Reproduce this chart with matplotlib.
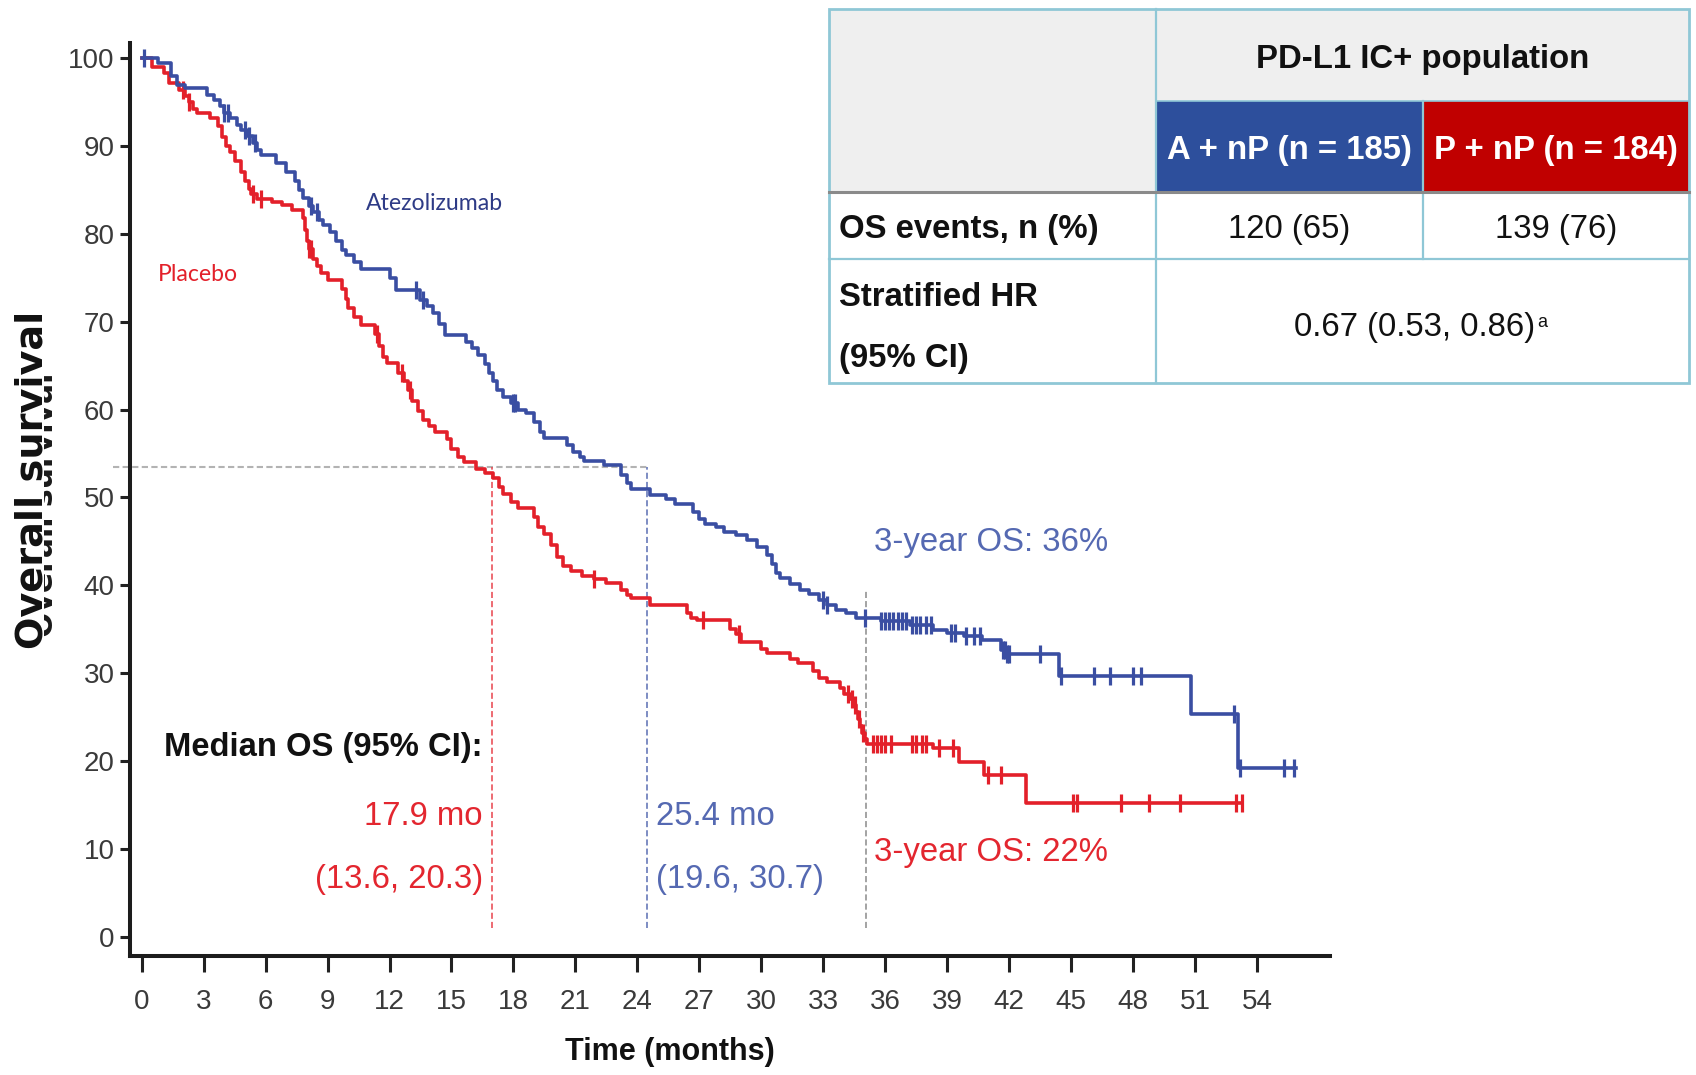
import numpy as np
import matplotlib
matplotlib.use('Agg')
import matplotlib.pyplot as plt
from matplotlib.patches import Rectangle
from matplotlib.transforms import offset_copy, Bbox, TransformedBbox

# Kaplan-Meier steps: time of each drop (months) and survival (%) after it
atezo_t = [0, 0.8, 1.4, 1.7, 2.1, 3.15, 3.5, 3.8, 4.0, 4.3, 4.6, 4.8, 5.1, 5.4, 5.6, 5.8,
           6.5, 7.0, 7.4, 7.6, 7.8, 8.1, 8.3, 8.6, 8.8, 9.1, 9.4, 9.7, 9.9, 10.3, 10.6,
           12.0, 12.3, 13.5, 13.8, 14.1, 14.4, 14.7, 15.7, 16.0, 16.3, 16.6, 16.8, 17.0,
           17.2, 17.5, 17.9, 18.2, 18.6, 19.0, 19.3, 19.5, 20.6, 20.9, 21.2, 21.4, 22.4,
           23.2, 23.5, 23.7, 24.6, 25.4, 25.8, 26.7, 27.0, 27.3, 27.8, 28.2, 28.8, 29.3,
           29.8, 30.3, 30.5, 30.7, 30.9, 31.4, 31.9, 32.3, 32.8, 33.2, 33.6, 34.1, 34.6,
           35.8, 37.2, 38.3, 39.0, 39.8, 40.7, 41.6, 41.9, 44.4, 50.8, 53.1]
atezo_s = [100, 99.5, 98.0, 97.0, 96.6, 95.8, 95.2, 94.6, 93.8, 93.2, 92.4, 91.8, 91.2, 90.4,
           89.6, 89.0, 88.1, 87.0, 86.0, 85.0, 84.1, 83.2, 82.5, 81.6, 81.0, 80.2, 79.2, 78.2,
           77.6, 76.8, 76.0, 75.0, 73.6, 72.5, 71.8, 71.0, 69.8, 68.5, 67.7, 67.0, 66.2, 65.2,
           64.2, 63.2, 62.2, 61.4, 60.8, 60.0, 59.6, 58.6, 57.5, 56.8, 56.0, 55.2, 54.6, 54.2,
           53.7, 52.6, 51.6, 51.0, 50.3, 49.8, 49.3, 48.4, 47.6, 47.0, 46.6, 46.1, 45.7, 45.2,
           44.4, 43.5, 42.4, 41.4, 40.8, 40.2, 39.5, 39.0, 38.3, 37.8, 37.2, 36.8, 36.3, 35.9,
           35.5, 34.9, 34.6, 34.2, 33.8, 32.6, 32.2, 29.7, 25.4, 19.2]
atezo_end = 55.9
atezo_cens = [0.1, 4.0, 4.2, 5.0, 5.2, 5.5, 8.2, 8.5, 13.3, 13.6, 18.0, 18.1, 33.0, 33.2,
              35.0, 35.8, 36.0, 36.2, 36.4, 36.6, 36.8, 37.0, 37.3, 37.5, 37.7, 38.0, 38.2,
              39.2, 39.4, 39.9, 40.3, 40.6, 41.7, 41.8, 41.9, 42.0, 43.5, 44.5, 46.1, 46.9,
              48.0, 48.4, 52.9, 53.2, 55.3, 55.8]

placebo_t = [0, 0.5, 1.1, 1.3, 1.8, 2.1, 2.3, 2.5, 2.7, 3.3, 3.7, 3.9, 4.1, 4.3, 4.5, 4.8,
             5.0, 5.2, 5.3, 5.6, 6.3, 6.8, 7.3, 7.8, 7.9, 8.0, 8.1, 8.3, 8.5, 8.7, 9.0, 9.7,
             9.9, 10.0, 10.3, 10.6, 11.3, 11.5, 11.7, 11.9, 12.4, 12.7, 12.9, 13.1, 13.4,
             13.6, 13.9, 14.2, 14.8, 15.0, 15.3, 15.6, 16.2, 16.6, 17.0, 17.3, 17.5, 17.9,
             18.2, 19.0, 19.2, 19.5, 19.8, 20.1, 20.4, 20.8, 21.3, 21.9, 22.5, 23.2, 23.5,
             23.7, 24.6, 26.4, 26.6, 26.9, 28.5, 28.8, 29.0, 30.0, 30.3, 31.4, 31.8, 32.5,
             32.8, 33.2, 33.8, 34.0, 34.3, 34.5, 34.6, 34.7, 34.8, 34.9, 35.0, 35.1, 38.3,
             39.6, 40.8, 42.8]
placebo_s = [100, 99.0, 98.3, 97.2, 96.4, 95.7, 95.0, 94.2, 93.8, 93.2, 92.3, 91.0, 90.0,
             89.3, 88.3, 87.0, 86.0, 85.1, 84.5, 84.0, 83.6, 83.3, 82.7, 81.8, 80.5, 79.2,
             78.3, 77.2, 76.3, 75.6, 74.8, 73.7, 72.6, 71.6, 70.5, 69.6, 68.6, 67.2, 66.0,
             65.3, 64.2, 63.2, 62.2, 61.0, 59.8, 58.8, 58.1, 57.5, 56.6, 55.5, 54.6, 54.0,
             53.2, 52.8, 52.2, 51.2, 50.4, 49.5, 48.8, 47.8, 46.6, 45.8, 44.6, 43.2, 42.2,
             41.6, 41.1, 40.7, 40.3, 39.5, 38.9, 38.6, 37.8, 36.8, 36.3, 36.0, 35.0, 34.4,
             33.6, 32.7, 32.3, 31.6, 31.2, 30.2, 29.4, 29.0, 28.3, 27.6, 27.0, 26.4, 25.6,
             24.8, 24.0, 23.2, 22.5, 21.9, 21.5, 19.9, 18.4, 15.2]
placebo_end = 53.3
placebo_cens = [2.0, 2.3, 5.4, 5.8, 8.1, 8.2, 11.4, 12.6, 13.0, 21.9, 27.2, 28.9, 34.2,
                34.4, 34.55, 34.75, 34.95, 35.4, 35.6, 35.8, 36.0, 36.3, 37.3, 37.5, 37.8,
                38.0, 38.6, 39.3, 41.0, 41.6, 45.1, 45.3, 47.4, 48.8, 50.3, 53.0, 53.3]

# medians and landmark
median_os = [17.9, 25.4]                 # placebo, atezolizumab
median_ci = ['(13.6, 20.3)', '(19.6, 30.7)']
landmark_month = 36
three_year_os = [22, 36]                 # placebo, atezolizumab

# summary table
table_title = 'PD-L1 IC+ population'
arm_labels = ['A + nP (n = 185)', 'P + nP (n = 184)']
os_events = ['120 (65)', '139 (76)']
events_label = 'OS events, n (%)'
hr_label = ['Stratified HR', '(95% CI)']
hazard_ratio = '0.67 (0.53, 0.86)'

plt.rcParams['font.family'] = ['Liberation Sans', 'DejaVu Sans']

BLUE = '#3a4ea2'
RED = '#e3202a'
BLUE_TXT = '#5569b2'
RED_TXT = '#e3262f'
TICK_C = '#3a3a3a'
FS = 23.7

W, H = 1696, 1075
fig = plt.figure(figsize=(W / 100, H / 100), dpi=100)


def frac(x0, y0, x1, y1):
    return [x0 / W, 1 - y1 / H, (x1 - x0) / W, (y1 - y0) / H]


ax = fig.add_axes(frac(129.8, 43.3, 1330.4, 956))
ax.set_xlim(-0.576, 57.56)
ax.set_ylim(-2.2, 101.7)


def km_path(t, s, end):
    return np.append(t, end), np.append(s, s[-1])


def censor_levels(t, s, c):
    idx = np.searchsorted(np.asarray(t), np.asarray(c), side='right') - 1
    return np.asarray(s)[idx]


for t, s, end, cens, col in [(placebo_t, placebo_s, placebo_end, placebo_cens, RED),
                             (atezo_t, atezo_s, atezo_end, atezo_cens, BLUE)]:
    x, y = km_path(t, s, end)
    ax.step(x, y, where='post', color=col, lw=2.6, zorder=3)
    ax.plot(cens, censor_levels(t, s, cens), ls='none', marker='|', ms=13.5, mew=2.3,
            color=col, zorder=3)

ax.text(10.84, 83.5, 'Atezolizumab', color='#2e3b86', fontsize=16.6, family='Lato',
        ha='left', va='center')
ax.text(0.78, 75.4, 'Placebo', color=RED, fontsize=16.6, family='Lato', ha='left',
        va='center')

# median / landmark guides sit on a layer nudged left and up
ov = offset_copy(ax.transData, fig=fig, x=-19.6, y=30.3, units='dots')
guide_bottom = -2.46
ax.plot([-0.46, median_os[1]], [50, 50], color='#b3b3b3', lw=1.5, ls=(0, (3, 1.6)),
        transform=ov, clip_on=False, zorder=2)
ax.plot([median_os[0]] * 2, [guide_bottom, 50], color='#e8434b', lw=1.1, ls=(0, (4, 2)),
        transform=ov, zorder=2)
ax.plot([median_os[1]] * 2, [guide_bottom, 50], color='#5a6db3', lw=1.1, ls=(0, (4, 2)),
        transform=ov, zorder=2)
ax.plot([landmark_month] * 2, [guide_bottom, three_year_os[1]], color='#8a8a8a', lw=1.1,
        ls=(0, (4, 2)), transform=ov, zorder=2)

ax.text(median_os[0] - 0.45, 18.05, 'Median OS (95% CI):', transform=ov, ha='right',
        va='center', fontsize=23.6, fontweight='bold', color='#111111')
for med, ci, col, side in [(median_os[0], median_ci[0], RED_TXT, -1),
                           (median_os[1], median_ci[1], BLUE_TXT, 1)]:
    ha = 'right' if side < 0 else 'left'
    ax.text(med + side * 0.44, 10.2, f'{med:.1f} mo', transform=ov, ha=ha, va='center',
            fontsize=FS, color=col)
    ax.text(med + side * 0.44, 3.05, ci, transform=ov, ha=ha, va='center',
            fontsize=FS, color=col)
ax.text(landmark_month + 0.41, 41.45, f'3-year OS: {three_year_os[1]}%', transform=ov,
        ha='left', va='center', fontsize=FS, color=BLUE_TXT)
ax.text(landmark_month + 0.41, 6.15, f'3-year OS: {three_year_os[0]}%', transform=ov,
        ha='left', va='center', fontsize=FS, color=RED_TXT)

# axes styling
for side in ['top', 'right']:
    ax.spines[side].set_visible(False)
for side in ['left', 'bottom']:
    ax.spines[side].set_linewidth(2.9)
    ax.spines[side].set_color('#1c1c1c')
ax.set_xticks(np.arange(0, 55, 3))
ax.set_yticks(np.arange(0, 101, 10))
ax.tick_params(axis='x', length=11.5, width=2.2, pad=12, labelsize=20, color='#222222',
               labelcolor=TICK_C)
ax.tick_params(axis='y', length=7, width=2.2, pad=4, labelsize=20, color='#222222',
               labelcolor=TICK_C)
ax.set_xlabel('Time (months)', fontsize=22, fontweight='bold', color='#111111')
ax.xaxis.set_label_coords((669.5 - 129.8) / 1200.6, (956 - 1052) / 912.7)
ax.xaxis.label.set_verticalalignment('center')

# y label, with an older smaller copy peeking out along its baseline
ghost = fig.text(53 / W, 1 - 505 / H, 'Overall survival', rotation=90,
                 rotation_mode='anchor', ha='center', va='baseline', fontsize=21.5,
                 fontweight='bold', family='DejaVu Sans', color='#1a1a1a')
ghost.set_clip_on(True)
ghost.set_clip_box(TransformedBbox(Bbox([[44 / W, 0], [1, 1]]), fig.transFigure))
fig.text(43 / W, 1 - 480 / H, 'Overall survival', rotation=90, rotation_mode='anchor',
         ha='center', va='baseline', fontsize=27.5, fontweight='bold',
         family='DejaVu Sans', color='#111111')

# summary table
tb = fig.add_axes(frac(828.5, 8.5, 1689.0, 383.0))
col_x = [0, 327.5, 594.5, 860.5]
row_y = [0, 92, 183.5, 250.5, 374.5]
tb.set_xlim(col_x[0], col_x[-1])
tb.set_ylim(row_y[-1], row_y[0])
tb.axis('off')

GRID = '#8fc7d6'
tb.add_patch(Rectangle((0, 0), col_x[-1], row_y[-1], facecolor='white', edgecolor='none'))
tb.add_patch(Rectangle((0, 0), col_x[1], row_y[2], facecolor='#efefef', edgecolor='none'))
tb.add_patch(Rectangle((col_x[1], 0), col_x[3] - col_x[1], row_y[1], facecolor='#efefef',
                       edgecolor='none'))
arm_fill = ['#2d4f9c', '#c00000']
for i, (lab, fc) in enumerate(zip(arm_labels, arm_fill)):
    x0, x1 = col_x[i + 1], col_x[i + 2]
    tb.add_patch(Rectangle((x0, row_y[1]), x1 - x0, row_y[2] - row_y[1], facecolor=fc,
                           edgecolor='none'))
    tb.text((x0 + x1) / 2, (row_y[1] + row_y[2]) / 2 + 4, lab, ha='center', va='center',
            fontsize=FS, fontweight='bold', color='white')
    tb.text((x0 + x1) / 2, (row_y[2] + row_y[3]) / 2 + 4, os_events[i], ha='center',
            va='center', fontsize=FS, color='#111111')

tb.plot([col_x[1]] * 2, [row_y[0], row_y[-1]], color=GRID, lw=1.6, clip_on=False)
tb.plot([col_x[2]] * 2, [row_y[1], row_y[3]], color=GRID, lw=1.6, clip_on=False)
tb.plot([col_x[1], col_x[3]], [row_y[1]] * 2, color=GRID, lw=1.2, clip_on=False)
tb.plot([col_x[0], col_x[3]], [row_y[3]] * 2, color=GRID, lw=1.6, clip_on=False)
tb.plot([col_x[0], col_x[3]], [row_y[2]] * 2, color='#8a8a8a', lw=2.2, clip_on=False)
tb.add_patch(Rectangle((0, 0), col_x[-1], row_y[-1], facecolor='none', edgecolor=GRID,
                       lw=2.0, clip_on=False))

tb.text((col_x[1] + col_x[3]) / 2, 51, table_title, ha='center', va='center', fontsize=FS,
        fontweight='bold', color='#111111')
tb.text(10.5, (row_y[2] + row_y[3]) / 2 + 4, events_label, ha='left', va='center',
        fontsize=FS, fontweight='bold', color='#111111')
for yy, line in zip([289, 350], hr_label):
    tb.text(10.5, yy, line, ha='left', va='center', fontsize=FS, fontweight='bold',
            color='#111111')
hr = tb.text(586.5, 319, hazard_ratio, ha='center', va='center', fontsize=FS,
             color='#111111')
tb.annotate('a', xy=(1, 0.92), xycoords=hr, xytext=(1, 0), textcoords='offset points',
            ha='left', va='top', fontsize=13, color='#111111')

fig.savefig('out.png', dpi=100)
